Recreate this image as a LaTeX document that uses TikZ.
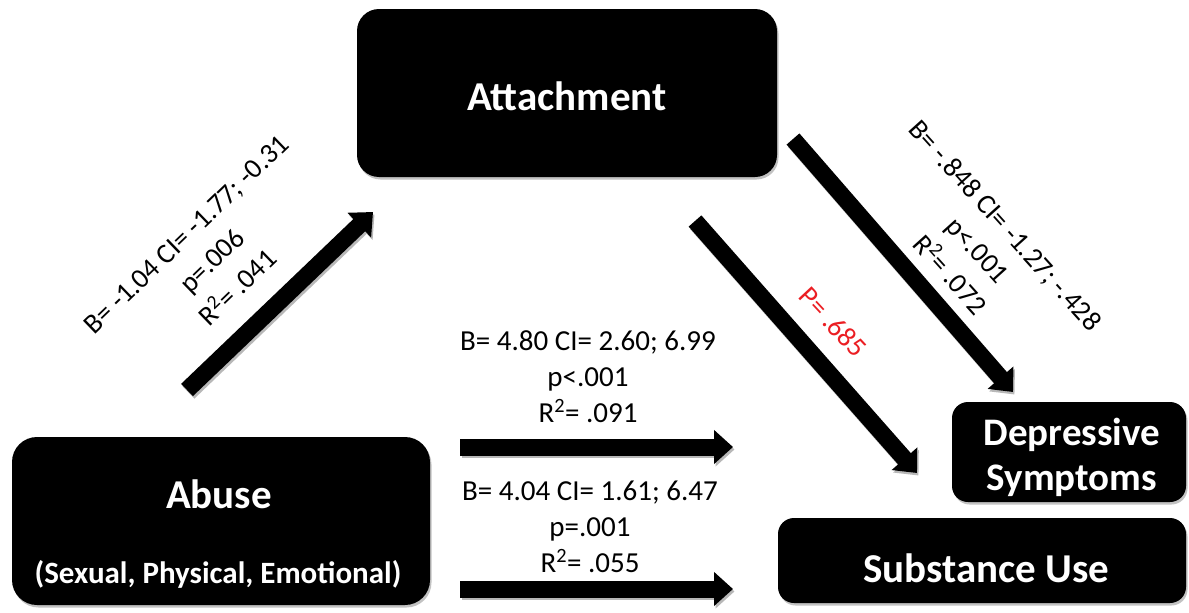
\documentclass[tikz,border=0pt]{standalone}
\usepackage{fontspec}
\setmainfont{Carlito}
\usetikzlibrary{arrows.meta,shadows}
\definecolor{pred}{RGB}{235,30,35}
\begin{document}
\begin{tikzpicture}[x=1pt,y=-1pt,
  box/.style={fill=black, rounded corners=#1, inner sep=0pt,
    drop shadow={shadow xshift=1.5pt,shadow yshift=-2.5pt,fill=black!40,opacity=0.6}},
  box/.default=20pt,
  boxtxt/.style={text=white, anchor=base, inner sep=0pt, font=\bfseries\fontsize{41}{49}\selectfont},
  lbl/.style={anchor=base, inner sep=0pt, font=\fontsize{29}{36}\selectfont},
  rlbl/.style={align=center, inner sep=0pt, font=\fontsize{28}{37}\selectfont},
  fat/.style={line width=17pt, -{Triangle[length=19pt,width=33pt]},
    preaction={draw=black!28, line width=17pt, -{Triangle[length=19pt,width=33pt]},
      transform canvas={shift={(1.5pt,-2.5pt)}}}}
]
\useasboundingbox (0,0) rectangle (1189,613);

% boxes
\node[box=22pt, minimum width=420pt, minimum height=168pt] (att) at (567,93) {};
\node[box=25pt, minimum width=418pt, minimum height=168pt] (abuse) at (221,521) {};
\node[box=16pt, minimum width=234pt, minimum height=100pt] (dep) at (1069,452) {};
\node[box=16pt, minimum width=408pt, minimum height=85pt] (sub) at (982,560.5) {};

% box texts
\node[boxtxt] (tatt) at (567,110) {Attachment};
\node[boxtxt] (tabuse) at (219,508) {Abuse};
\node[boxtxt, font=\bfseries\fontsize{31}{37}\selectfont] (tsex) at (218,583) {(Sexual, Physical, Emotional)};
\node[boxtxt, font=\bfseries\fontsize{39}{45}\selectfont] (tdep1) at (1072,445) {Depressive};
\node[boxtxt, font=\bfseries\fontsize{39}{45}\selectfont] (tdep2) at (1072,490) {Symptoms};
\node[boxtxt] (tsub) at (986,582) {Substance Use};

% arrow end points
\coordinate (a1s) at (187,390);
\coordinate (a1e) at (373,212);
\coordinate (a2s) at (793,139);
\coordinate (a2e) at (1013,392);
\coordinate (a3s) at (695,221);
\coordinate (a3e) at (917,473);
\coordinate (h1s) at (460,447);
\coordinate (h1e) at (733,447);
\coordinate (h2s) at (460,589);
\coordinate (h2e) at (733,589);

\draw[fat] (a1s) -- (a1e);
\draw[fat] (a2s) -- (a2e);
\draw[fat] (a3s) -- (a3e);
\draw[fat] (h1s) -- (h1e);
\draw[fat] (h2s) -- (h2e);

% horizontal labels
\node[lbl] (u1) at (588,350) {B= 4.80 CI= 2.60; 6.99};
\node[lbl] (u2) at (588,386) {p<.001};
\node[lbl] (u3) at (588,422) {R\textsuperscript{2}= .091};
\node[lbl] (l1) at (590,500) {B= 4.04 CI= 1.61; 6.47};
\node[lbl] (l2) at (590,536) {p=.001};
\node[lbl] (l3) at (590,572) {R\textsuperscript{2}= .055};

% rotated labels
\node[rlbl, rotate=44] (lab1) at (212,261) {B= -1.04 CI= -1.77; -0.31\\p=.006\\R\textsuperscript{2}= .041};
\node[rlbl, rotate=-48] (lab2) at (978,250) {B= -.848 CI= -1.27; -.428\\p<.001\\R\textsuperscript{2}= .072};
\node[rlbl, rotate=-47, text=pred] (lab3) at (833,322) {P= .685};
\end{tikzpicture}
\end{document}
